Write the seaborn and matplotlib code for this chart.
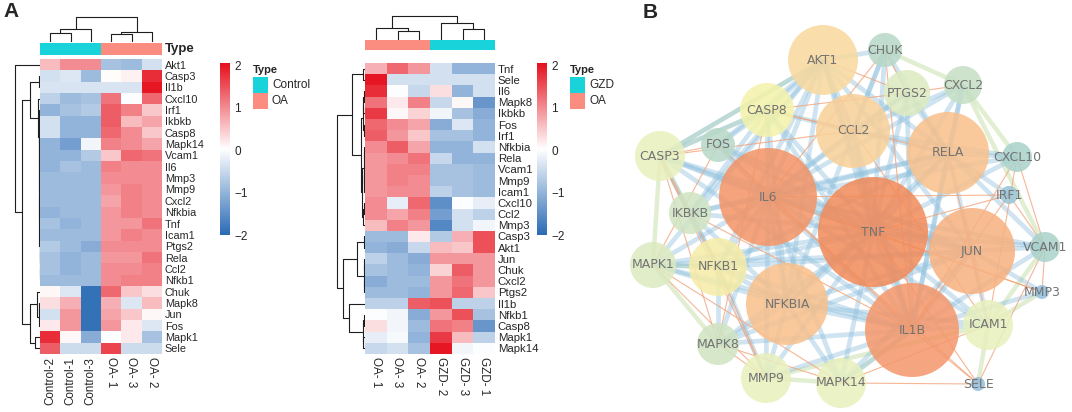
import numpy as np
import pandas as pd
import matplotlib
matplotlib.use("Agg")
import matplotlib.pyplot as plt
import seaborn as sns
from matplotlib.colors import LinearSegmentedColormap, ListedColormap
from matplotlib.patches import Circle, Rectangle
from matplotlib.collections import LineCollection

sns.set_style("white")
plt.rcParams["font.family"] = ["Liberation Sans", "DejaVu Sans"]

# ---------------------------------------------------------------- data
left_genes = ["Akt1", "Casp3", "Il1b", "Cxcl10", "Irf1", "Ikbkb", "Casp8", "Mapk14", "Vcam1",
              "Il6", "Mmp3", "Mmp9", "Cxcl2", "Nfkbia", "Tnf", "Icam1", "Ptgs2", "Rela", "Ccl2",
              "Nfkb1", "Chuk", "Mapk8", "Jun", "Fos", "Mapk1", "Sele"]
left_samples = ["Control-2", "Control-1", "Control-3", "OA- 1", "OA- 3", "OA- 2"]
left_types = ["Control", "Control", "Control", "OA", "OA", "OA"]
left_z = [
    [0.6, 1.0, 1.0, -0.8, -0.9, -0.4],
    [-0.4, -0.3, -0.9, 0.05, 0.15, 1.8],
    [-0.35, -0.35, -0.35, -0.35, -0.35, 2.0],
    [-0.6, -0.9, -0.8, 1.2, 0.0, 1.3],
    [-1.0, -0.8, -0.7, 1.4, 1.1, 0.5],
    [-0.4, -1.0, -1.0, 1.4, 0.6, 0.8],
    [-0.4, -1.0, -1.0, 1.3, 1.0, 0.5],
    [-1.0, -1.3, -0.1, 1.1, 1.0, 0.8],
    [-1.0, -1.0, -0.7, 0.5, 1.3, 1.2],
    [-1.0, -0.8, -0.9, 1.1, 1.0, 1.0],
    [-0.9, -0.9, -0.9, 1.0, 1.0, 1.0],
    [-0.9, -0.9, -0.9, 0.9, 1.1, 1.0],
    [-0.9, -0.9, -0.9, 0.8, 1.1, 1.0],
    [-1.0, -0.9, -0.9, 0.9, 1.1, 1.0],
    [-0.8, -1.0, -0.9, 0.9, 0.9, 1.2],
    [-0.9, -0.9, -0.9, 0.9, 1.1, 1.0],
    [-0.7, -0.9, -1.1, 1.0, 1.0, 1.0],
    [-0.8, -1.0, -0.9, 0.9, 0.9, 1.2],
    [-0.8, -1.0, -0.9, 1.0, 1.0, 1.1],
    [-0.9, -0.9, -0.9, 1.0, 1.1, 1.1],
    [0.1, -0.3, -1.9, 1.3, 0.5, 0.3],
    [0.3, 0.7, -1.9, 0.7, -0.3, 0.6],
    [-0.4, 0.9, -1.9, 0.8, 0.5, 0.1],
    [0.2, 0.9, -1.9, 0.9, 0.2, -0.3],
    [1.8, 0.1, -1.1, 0.0, 0.2, -0.8],
    [1.4, -0.45, -0.45, 1.6, -0.45, -0.45],
]

right_genes = ["Tnf", "Sele", "Il6", "Mapk8", "Ikbkb", "Fos", "Irf1", "Nfkbia", "Rela", "Vcam1",
               "Mmp9", "Icam1", "Cxcl10", "Ccl2", "Mmp3", "Casp3", "Akt1", "Jun", "Chuk", "Cxcl2",
               "Ptgs2", "Il1b", "Nfkb1", "Casp8", "Mapk1", "Mapk14"]
right_samples = ["OA- 1", "OA- 3", "OA- 2", "GZD- 2", "GZD- 3", "GZD- 1"]
right_types = ["OA", "OA", "OA", "GZD", "GZD", "GZD"]
right_z = [
    [0.7, 1.3, 0.9, -0.4, -1.0, -1.0],
    [2.0, -0.4, -0.4, -0.4, -0.4, -0.4],
    [1.8, 0.0, -0.5, 0.3, -1.0, -0.4],
    [1.2, 0.2, 1.1, -0.5, 0.1, -1.4],
    [1.7, 0.1, 0.4, -0.1, -0.8, -1.1],
    [1.3, 1.0, 0.8, -1.1, -0.3, -1.0],
    [1.4, 0.9, 0.5, -0.8, -0.8, -1.0],
    [1.0, 1.4, 0.8, -1.0, -1.0, -0.4],
    [0.9, 1.0, 1.2, -0.5, -1.0, -1.0],
    [0.9, 1.1, 1.1, -0.8, -0.8, -0.9],
    [0.9, 1.1, 1.0, -0.8, -0.8, -0.9],
    [0.9, 1.0, 1.0, -0.6, -0.8, -0.9],
    [1.0, -0.2, 1.3, -1.5, 0.0, -0.2],
    [1.0, 0.8, 1.1, -1.3, -0.4, -0.6],
    [0.6, 1.1, 0.9, -1.6, -0.4, -0.1],
    [-0.9, -0.9, 0.2, -0.7, 0.7, 1.5],
    [-1.0, -1.1, -0.5, 0.6, 0.5, 1.5],
    [-0.6, -0.9, -1.1, 0.9, 0.9, 0.9],
    [-0.8, -0.9, -1.0, 0.4, 1.4, 0.9],
    [-1.1, -0.9, -0.9, 0.9, 1.2, 0.9],
    [-0.9, -0.9, -1.0, 0.9, 1.3, 0.5],
    [-0.6, -0.6, 1.4, 1.5, -0.6, -0.6],
    [0.0, -0.1, -1.1, 0.9, 1.5, -0.8],
    [0.3, -0.1, -0.9, 1.2, 1.1, -1.4],
    [-0.2, -0.05, -1.0, 1.7, 0.6, -0.6],
    [-0.5, -0.4, -0.8, 2.0, -0.1, 0.0],
]

# dendrograms: (child, child, height); "#k" = k-th merge
left_col_tree = [("Control-2", "Control-1", 9), ("#0", "Control-3", 13),
                 ("OA- 1", "OA- 3", 8), ("#2", "OA- 2", 10), ("#1", "#3", 25)]
right_col_tree = [("OA- 3", "OA- 2", 9), ("OA- 1", "#0", 12),
                  ("GZD- 3", "GZD- 1", 11), ("GZD- 2", "#2", 17), ("#1", "#3", 24)]
left_row_tree = [
    ("Casp3", "Il1b", 1.2),                                   # 0
    ("Mmp3", "Mmp9", 0.2), ("Cxcl2", "Nfkbia", 0.25), ("#1", "#2", 0.35),   # 1-3
    ("Tnf", "Icam1", 0.3), ("Ptgs2", "Rela", 0.3), ("Ccl2", "Nfkb1", 0.2),   # 4-6
    ("#5", "#6", 0.4), ("#4", "#7", 0.5), ("#3", "#8", 0.6),                 # 7-9
    ("Vcam1", "Il6", 0.4), ("#10", "#9", 0.8),                               # 10-11
    ("Ikbkb", "Casp8", 0.6), ("#12", "Mapk14", 0.9), ("#13", "#11", 1.1),    # 12-14
    ("Irf1", "#14", 1.3), ("Cxcl10", "#15", 1.6),                            # 15-16
    ("#0", "#16", 10),                                                       # 17
    ("Mapk8", "Jun", 0.8), ("#18", "Fos", 1.2), ("Chuk", "#19", 2.8),        # 18-20
    ("Mapk1", "Sele", 5), ("#20", "#21", 10),                                # 21-22
    ("#17", "#22", 18), ("Akt1", "#23", 25),                                 # 23-24
]
right_row_tree = [
    ("Tnf", "Sele", 2),                                                      # 0
    ("Il6", "Mapk8", 1.2), ("#1", "Ikbkb", 1.8),                             # 1-2
    ("Fos", "Irf1", 0.8), ("#2", "#3", 2.5),                                 # 3-4
    ("Nfkbia", "Rela", 0.9), ("Vcam1", "Mmp9", 0.4), ("#6", "Icam1", 0.6),   # 5-7
    ("#5", "#7", 1.0), ("Cxcl10", "Ccl2", 1.5), ("#9", "Mmp3", 2.0),         # 8-10
    ("#8", "#10", 2.8), ("#4", "#11", 4.5), ("#0", "#12", 13),               # 11-13
    ("Casp3", "Akt1", 1.2), ("Jun", "Chuk", 0.8), ("Cxcl2", "Ptgs2", 0.6),   # 14-16
    ("#15", "#16", 1.2), ("#14", "#17", 8),                                  # 17-18
    ("Nfkb1", "Casp8", 1.5), ("Mapk1", "Mapk14", 1.8), ("#19", "#20", 2.5),  # 19-21
    ("Il1b", "#21", 16), ("#18", "#22", 22), ("#13", "#23", 28),             # 22-24
]

# network (panel B)
node_names = ["AKT1", "CHUK", "PTGS2", "CXCL2", "CASP8", "CCL2", "RELA", "CASP3", "FOS",
              "CXCL10", "IRF1", "IL6", "TNF", "JUN", "IKBKB", "MAPK1", "NFKB1", "NFKBIA",
              "IL1B", "VCAM1", "MMP3", "ICAM1", "MAPK8", "MMP9", "MAPK14", "SELE"]
node_degree = [15, 6, 9, 7, 11, 16, 18, 10, 6, 5, 2, 22, 25, 19, 8, 9, 12, 18, 21, 5, 1, 10,
               8, 10, 10, 1]
layout_x = [823, 885, 907, 963, 767, 853, 948, 660, 718, 1017, 1009, 768, 873, 972, 690, 653,
            718, 787, 912, 1045, 1042, 988, 718, 766, 841, 978]
layout_y = [60, 50, 93, 85, 110, 131, 153, 156, 145, 157, 195, 197, 232, 251, 213, 265, 267,
            304, 330, 247, 292, 325, 344, 378, 383, 384]
strong_edges = """
TNF: IL6 IL1B JUN NFKBIA RELA CCL2 AKT1 NFKB1 CASP8 CASP3 MMP9 MAPK14 ICAM1 MAPK1 PTGS2 CXCL2 IKBKB MAPK8 CHUK FOS CXCL10 VCAM1
IL6: IL1B JUN NFKBIA RELA CCL2 AKT1 NFKB1 CASP8 CASP3 MMP9 MAPK14 ICAM1 MAPK1 PTGS2 CXCL2 IKBKB MAPK8 FOS CXCL10 VCAM1
IL1B: JUN NFKBIA RELA CCL2 AKT1 NFKB1 CASP8 CASP3 MMP9 MAPK14 ICAM1 MAPK1 PTGS2 CXCL2 MAPK8 VCAM1 MMP3
JUN: NFKBIA RELA AKT1 FOS MAPK8 MAPK14 MAPK1 NFKB1 CASP3 VCAM1 MMP3 ICAM1
NFKBIA: RELA NFKB1 IKBKB CHUK AKT1 MAPK1 MAPK14 MAPK8 CASP8 ICAM1 MMP9
RELA: NFKB1 IKBKB CHUK AKT1 CCL2 CXCL10 IRF1 VCAM1 CXCL2 PTGS2
CCL2: AKT1 CASP8 PTGS2 CXCL2 CHUK CXCL10
AKT1: CASP8 CASP3 CHUK FOS MAPK1 NFKB1 IKBKB
NFKB1: IKBKB MAPK1 CASP3 MAPK8 MMP9
CASP8: CASP3 FOS IKBKB
"""
pale_edges = """
CASP3: MAPK1 CASP8 AKT1 IKBKB
CXCL2: VCAM1 CXCL10 CHUK
MAPK1: MAPK8 NFKB1
MMP9: MAPK14 ICAM1
ICAM1: VCAM1 SELE MMP3
MAPK14: IL1B
"""
weak_edges = """
TNF: SELE MMP3 IRF1
IL6: CHUK SELE IRF1 MMP3
IL1B: IKBKB CHUK FOS CXCL10 IRF1 SELE
CASP3: FOS MAPK8 MMP9 NFKB1 CCL2
MAPK1: MMP9 FOS MAPK14
MMP9: MAPK8 NFKB1
MAPK14: MAPK8 ICAM1 SELE
ICAM1: CXCL10 CCL2 RELA
VCAM1: SELE MMP3 CXCL10 IRF1
CXCL2: PTGS2
PTGS2: CHUK AKT1 CASP8
CASP8: CCL2 RELA MAPK8
"""

# ---------------------------------------------------------------- figure
W, H = 1072, 412
fig = plt.figure(figsize=(W / 100, H / 100), dpi=100)


def px_axes(x0, y0, x1, y1, **kw):
    return fig.add_axes([x0 / W, 1 - y1 / H, (x1 - x0) / W, (y1 - y0) / H], **kw)


heat_cmap = LinearSegmentedColormap.from_list("ph", ["#2A6BB5", "#FFFFFF", "#E5101D"])
CYAN, SALMON = "#18D4DA", "#FA8C80"
LINE = "#1E1E1E"


def draw_tree(ax, tree, leaves, orient):
    pos = {name: i + 0.5 for i, name in enumerate(leaves)}
    hgt = {name: 0.0 for name in leaves}
    segs = []
    for k, (a, b, h) in enumerate(tree):
        pa, pb, ha, hb = pos[a], pos[b], hgt[a], hgt[b]
        if orient == "top":
            pts = [(pa, ha), (pa, h), (pb, h), (pb, hb)]
        else:
            pts = [(ha, pa), (h, pa), (h, pb), (hb, pb)]
        segs.append(pts)
        pos["#%d" % k] = (pa + pb) / 2
        hgt["#%d" % k] = h
    ax.add_collection(LineCollection(segs, colors=LINE, linewidths=0.8))
    ax.axis("off")


def heat_panel(genes, samples, types, z, type_order, hm, ann, cdend, rdend, cbar,
               col_tree, row_tree, col_h, row_w, ylab_fs, show_type, rot_map):
    df = pd.DataFrame(z, index=genes, columns=samples)
    ax = px_axes(*hm)
    cax = px_axes(*cbar)
    sns.heatmap(df, ax=ax, cmap=heat_cmap, vmin=-2.0, vmax=2.05, cbar_ax=cax,
                xticklabels=True, yticklabels=True)
    ax.yaxis.tick_right()
    ax.tick_params(axis="y", length=0, pad=2, labelsize=ylab_fs, labelrotation=0)
    ax.tick_params(axis="x", length=0, pad=2.5, labelsize=8.4)
    ax.set_xlabel("")
    ax.set_ylabel("")
    for lbl in ax.get_xticklabels():
        r = rot_map(lbl.get_text())
        lbl.set_rotation(r)
        lbl.set_rotation_mode("anchor")
        lbl.set_ha("right" if r == 90 else "left")
        lbl.set_va("center")
    cb = ax.collections[0].colorbar
    cb.outline.set_visible(False)
    cb.set_ticks([-2, -1, 0, 1, 2])
    cb.set_ticklabels(["\u22122", "\u22121", "0", "1", "2"])
    cax.tick_params(length=0, pad=3, labelsize=8.5)
    # annotation bar
    aax = px_axes(*ann)
    codes = pd.DataFrame([[type_order.index(t) for t in types]], columns=samples)
    sns.heatmap(codes, ax=aax, cmap=ListedColormap([CYAN, SALMON]), vmin=0, vmax=1,
                cbar=False, xticklabels=False, yticklabels=False)
    if show_type:
        aax.text(1.02, 0.5, "Type", transform=aax.transAxes, fontsize=9.5,
                 fontweight="bold", va="center", ha="left")
    # dendrograms
    dax = px_axes(*cdend)
    dax.set_xlim(0, len(samples))
    dax.set_ylim(0, col_h)
    draw_tree(dax, col_tree, samples, "top")
    rax = px_axes(*rdend)
    rax.set_xlim(row_w, 0)
    rax.set_ylim(len(genes), 0)
    draw_tree(rax, row_tree, genes, "left")


heat_panel(left_genes, left_samples, left_types, left_z, ["Control", "OA"],
           hm=(40, 59, 162, 354), ann=(40, 43, 162, 55), cdend=(40, 15, 162, 42),
           rdend=(10, 59, 40, 354), cbar=(220, 63, 230, 235),
           col_tree=left_col_tree, row_tree=left_row_tree, col_h=27, row_w=30,
           ylab_fs=7.8, show_type=True,
           rot_map=lambda s: 90 if s.startswith("Control") else -90)
heat_panel(right_genes, right_samples, right_types, right_z, ["GZD", "OA"],
           hm=(365, 63, 495, 354), ann=(365, 40, 495, 50), cdend=(365, 14, 495, 40),
           rdend=(335, 63, 365, 354), cbar=(537, 63, 547, 235),
           col_tree=right_col_tree, row_tree=right_row_tree, col_h=26, row_w=30,
           ylab_fs=8.2, show_type=False, rot_map=lambda s: -90)

# overlay axes in pixel units for legends and panel letters
ov = px_axes(0, 0, W, H, zorder=-5)
ov.set_xlim(0, W)
ov.set_ylim(H, 0)
ov.axis("off")
for x0, names in [(253, ["Control", "OA"]), (570, ["GZD", "OA"])]:
    ov.text(x0, 70, "Type", fontsize=8, fontweight="bold", va="center", ha="left")
    for i, (nm, col) in enumerate(zip(names, [CYAN, SALMON])):
        ov.add_patch(Rectangle((x0, 77 + 16 * i), 15, 16, color=col, lw=0))
        ov.text(x0 + 19, 85 + 16 * i, nm, fontsize=8.5, va="center", ha="left")
fig.text(3 / W, 1 - 2 / H, "A", fontsize=15, fontweight="bold", va="top", ha="left")
fig.text(643 / W, 1 - 3 / H, "B", fontsize=15, fontweight="bold", va="top", ha="left")

# ---------------------------------------------------------------- network
nax = px_axes(600, 0, W, H)
nax.set_xlim(600, W)
nax.set_ylim(H, 0)
nax.axis("off")
idx = {n: i for i, n in enumerate(node_names)}


def parse_edges(spec):
    out = []
    for line in spec.strip().splitlines():
        a, rest = line.split(":")
        for b in rest.split():
            out.append(((layout_x[idx[a]], layout_y[idx[a]]),
                        (layout_x[idx[b]], layout_y[idx[b]])))
    return out


nax.add_collection(LineCollection(parse_edges(pale_edges), colors="#CFE3B4",
                                  linewidths=3.2, alpha=0.6, zorder=1))
nax.add_collection(LineCollection(parse_edges(strong_edges), colors="#8EC0DD",
                                  linewidths=3.4, alpha=0.42, zorder=1))
nax.add_collection(LineCollection(parse_edges(weak_edges), colors="#F2A47C",
                                  linewidths=0.8, alpha=0.8, zorder=2))

deg_cmap = LinearSegmentedColormap.from_list(
    "deg", [(0.0, "#93BEDA"), (4 / 24, "#A9D2CA"), (6 / 24, "#C5DFC4"),
            (9 / 24, "#E8F0BE"), (10 / 24, "#F4F3AA"), (14 / 24, "#F9D99E"),
            (17 / 24, "#F8C08C"), (20 / 24, "#F4976A"), (1.0, "#F28B5A")])
order = np.argsort(node_degree)[::-1]
for i in order:
    d = node_degree[i]
    r = 5 + 2 * d
    col = deg_cmap((d - 1) / 24)
    nax.add_patch(Circle((layout_x[i], layout_y[i]), r, facecolor=col, edgecolor="none",
                         alpha=0.86, zorder=3))
for i, n in enumerate(node_names):
    nax.text(layout_x[i], layout_y[i], n, fontsize=9, color="#737373", ha="center",
             va="center", family="DejaVu Sans", zorder=4)

fig.savefig("out.png", dpi=100)
